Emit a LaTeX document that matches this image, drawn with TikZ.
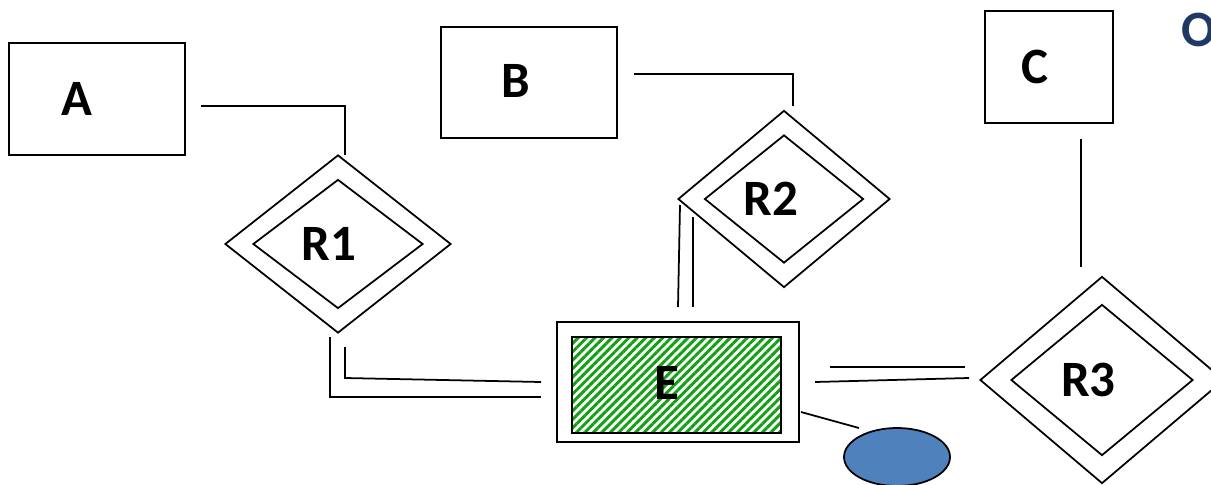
\documentclass[tikz,border=0pt]{standalone}
\usepackage{fontspec}
\setmainfont{Carlito}
\usepackage{xcolor}
\usepackage{tikz}
\usetikzlibrary{shapes.geometric,patterns.meta}
\definecolor{stripe}{HTML}{14A014}
\definecolor{attrblue}{HTML}{4F81BD}
\definecolor{navy}{HTML}{1F3864}

\begin{document}
\begin{tikzpicture}[
          every node/.style={font=\fontsize{29}{34}\selectfont\bfseries},
          ent/.style={draw,line width=1pt,inner sep=0pt},
          rel/.style={draw,diamond,line width=1pt,inner sep=0pt},
          hatch/.style={draw,line width=1pt,inner sep=0pt,
                        pattern={Lines[angle=45,distance=3.4pt,line width=1.7pt]},
                        pattern color=stripe},
          attr/.style={draw,ellipse,line width=1pt,fill=attrblue,inner sep=0pt},
          lnk/.style={line width=1pt}
      ]
        \useasboundingbox (0,0) rectangle (24.22,-9.70);
        \clip (0,0) rectangle (24.22,-9.70);

        % entities
        \node[ent,minimum width=3.52cm,minimum height=2.24cm] (A) at (1.94,-1.98)
          {\raisebox{-0.06cm}{A}\hspace*{0.8cm}};
        \node[ent,minimum width=3.52cm,minimum height=2.22cm] (B) at (10.58,-1.65)
          {\raisebox{0.08cm}{B}\hspace*{0.52cm}};
        \node[ent,minimum width=2.56cm,minimum height=2.24cm] (C) at (20.98,-1.34)
          {\raisebox{-0.08cm}{C}\hspace*{0.56cm}};
        \node[ent,minimum width=4.84cm,minimum height=2.40cm] (E) at (13.56,-7.64) {};
        \node[hatch,minimum width=4.18cm,minimum height=1.92cm] (Ein) at (13.53,-7.70)
          {\raisebox{0.1cm}{E}\hspace*{0.4cm}};

        % relationships
        \node[rel,minimum width=4.52cm,minimum height=3.56cm] (R1) at (6.76,-4.88) {};
        \node[rel,minimum width=3.40cm,minimum height=2.58cm] (R1in) at (R1)
          {R1\hspace*{0.36cm}};
        \node[rel,minimum width=4.24cm,minimum height=3.54cm] (R2) at (15.68,-3.98) {};
        \node[rel,minimum width=3.18cm,minimum height=2.56cm] (R2in) at (R2)
          {R2\hspace*{0.52cm}};
        \node[rel,minimum width=4.88cm,minimum height=4.14cm] (R3) at (22.04,-7.60) {};
        \node[rel,minimum width=3.64cm,minimum height=3.02cm] (R3in) at (R3)
          {R3\hspace*{0.54cm}};

        % attribute
        \node[attr,minimum width=2.12cm,minimum height=1.16cm] (att) at (17.94,-9.14) {};

        \node[text=navy,anchor=west,inner sep=0pt] (O) at (23.62,-0.60) {O};

        % line ends
        \coordinate (aR) at (4.02,-2.12);
        \coordinate (r1A) at (6.90,-3.10);
        \coordinate (bR) at (12.68,-1.48);
        \coordinate (r2B) at (15.86,-2.12);
        \coordinate (cR) at (21.62,-2.78);
        \coordinate (r3C) at (21.62,-5.34);
        \coordinate (r1Ea) at (6.60,-6.74);
        \coordinate (eR1a) at (10.82,-7.94);
        \coordinate (r1Eb) at (6.90,-6.94);
        \coordinate (eR1b) at (10.82,-7.64);
        \coordinate (r2Ea) at (13.60,-4.10);
        \coordinate (eR2a) at (13.56,-6.14);
        \coordinate (r2Eb) at (13.86,-4.34);
        \coordinate (eR2b) at (13.86,-6.14);
        \coordinate (eR3a) at (16.60,-7.34);
        \coordinate (r3Ea) at (19.30,-7.34);
        \coordinate (eR3b) at (16.30,-7.64);
        \coordinate (r3Eb) at (19.38,-7.56);
        \coordinate (eAt) at (16.02,-8.24);
        \coordinate (atE) at (17.18,-8.56);

        % links
        \draw[lnk] (aR) -| (r1A);
        \draw[lnk] (bR) -| (r2B);
        \draw[lnk] (cR) -- (r3C);
        \draw[lnk] (r1Ea) |- (eR1a);
        \draw[lnk] (r1Eb) -- (6.90,-7.56) -- (eR1b);
        \draw[lnk] (r2Ea) -- (eR2a);
        \draw[lnk] (r2Eb) -- (eR2b);
        \draw[lnk] (eR3a) -- (r3Ea);
        \draw[lnk] (eR3b) -- (r3Eb);
        \draw[lnk] (eAt) -- (atE);
      \end{tikzpicture}
\end{document}
